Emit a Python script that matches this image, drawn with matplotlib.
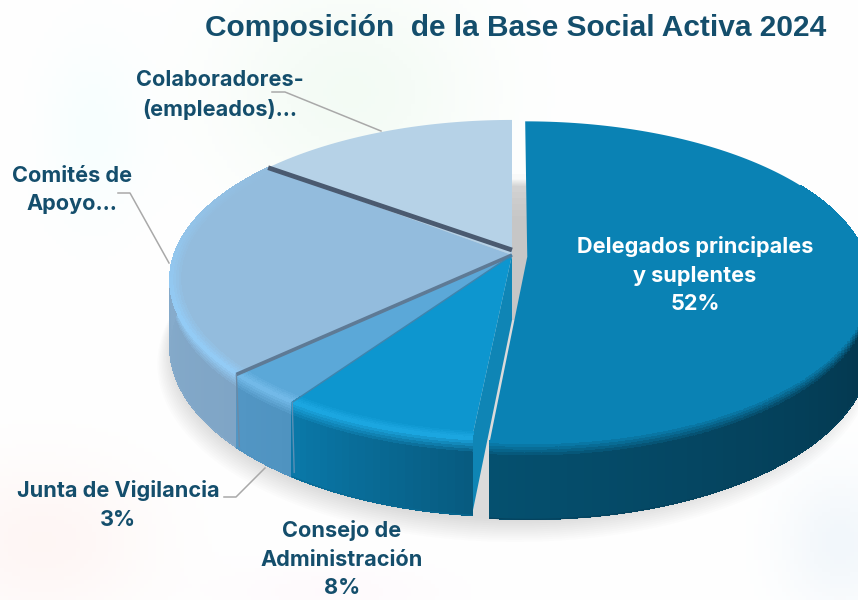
import matplotlib
matplotlib.use('Agg')
import matplotlib.pyplot as plt
import numpy as np
from matplotlib.collections import PolyCollection
from matplotlib.colors import to_rgb

plt.rcParams['font.family'] = ['Inter', 'DejaVu Sans']

categorias = ['Delegados', 'Consejo', 'Junta', 'Comites', 'Colaboradores']
valores = [51.6, 8.0, 3.4, 22.5, 14.5]
color_cara = ['#0a82b4', '#0d96cf', '#5ba8d8', '#93bcdd', '#b6d2e7']
color_brillo = ['#0a82b4', '#1ba6e0', '#72b9e8', '#93cbf5', '#b6d2e7']
lado_ini = ['#05506f', '#075b80', '#4f93c0', '#7fa5c6', '#9fc0d8']
lado_fin = ['#04344a', '#0a78a8', '#5296c4', '#8cb0cf', '#9fc0d8']
desplaza = [(0.045, -0.012), (0, 0), (0, 0), (0, 0), (0, 0)]
texto_color = '#144e6c'

cx, cy = 512, 255
rx, ry = 338, 156
k = 0.155
alto = 65


def proy(u, v, z=0.0):
    w = 1 + k * v
    return cx + rx * u / w, cy - ry * v / w + alto * z / w


def mezcla(a, b, t):
    a, b = np.array(to_rgb(a)), np.array(to_rgb(b))
    return tuple(a + (b - a) * t)


fig = plt.figure(figsize=(8.58, 6), dpi=100)
ax = fig.add_axes([0, 0, 1, 1])
ax.set_xlim(0, 858)
ax.set_ylim(600, 0)
ax.axis('off')

# fondo con manchas muy suaves
yy, xx = np.mgrid[0:600:4, 0:858:4]
fondo = np.ones(xx.shape + (3,))
manchas = [(90, 130, 50, 90, (0.03, 0.0, 0.0)), (40, 540, 110, 80, (0.0, 0.035, 0.04)),
           (350, 90, 130, 110, (0.045, 0.015, 0.04)), (840, 540, 60, 70, (0.05, 0.03, 0.015)),
           (330, 590, 110, 30, (0.0, 0.02, 0.01))]
for mx, my, sx, sy, tinte in manchas:
    g = np.exp(-((xx - mx) / sx) ** 2 - ((yy - my) / sy) ** 2)
    for c in range(3):
        fondo[..., c] -= g * tinte[c]
ax.imshow(np.clip(fondo, 0, 1), extent=(0, 858, 600, 0), aspect='auto', zorder=0)

# sombra bajo la tarta
t_all = np.linspace(0, 2 * np.pi, 200)
for i in range(12):
    e = 1 + i * 0.004
    px, py = proy(np.sin(t_all) * e, np.cos(t_all) * e, 1.0)
    ax.fill(px + 3, py + 3 + i * 1.1, color='#606060', alpha=0.014, lw=0, zorder=1)

fracs = np.cumsum([0] + valores) / np.sum(valores) * 2 * np.pi
# sombra en el hueco
for i in range(8):
    ax.fill([512, 527, 527, 512], [174 + i * 6, 174 + i * 6, 320, 320], color='#777777', alpha=0.022, lw=0, zorder=1)

# paredes y caras, de atras hacia delante
orden = [4, 3, 0, 2, 1]
for i in orden:
    t0, t1 = fracs[i], fracs[i + 1]
    du, dv = desplaza[i]
    th = np.linspace(t0, t1, max(int(valores[i] * 3), 12))
    z_base = 10 + orden.index(i) * 2

    # pared radial del consejo (la que se ve en el hueco)
    if i == 1:
        x0, y0 = proy(0, 0, 0)
        x1, y1 = proy(np.sin(t0), np.cos(t0), 0)
        x2, y2 = proy(np.sin(t0), np.cos(t0), 1)
        x3, y3 = proy(0, 0, 1)
        ax.fill([x0, x1, x2, x3], [y0, y1, y2, y3], color='#0f85b5', lw=0, zorder=z_base)

    # lado curvo (la parte de atras no se ve)
    if i != 4:
        polys, cols = [], []
        zs = np.concatenate([np.linspace(0, 0.18, 6), np.linspace(0.18, 1, 3)[1:]])
        for a in range(len(th) - 1):
            if i == 0 and np.cos(th[a]) > 0.5:
                continue
            tm = a / (len(th) - 2) if len(th) > 2 else 0
            if i == 0:
                tm = min(1, (1 - tm) * 2.2)
            base = mezcla(lado_ini[i], lado_fin[i], tm)
            for b in range(len(zs) - 1):
                f = min(1, zs[b] / 0.18)
                col = mezcla(color_brillo[i], base, f)
                pts = []
                for tt, zz in [(th[a], zs[b]), (th[a + 1], zs[b]), (th[a + 1], zs[b + 1]), (th[a], zs[b + 1])]:
                    pts.append(proy(np.sin(tt) + du, np.cos(tt) + dv, zz))
                polys.append(pts)
                cols.append(col)
        ax.add_collection(PolyCollection(polys, facecolors=cols, edgecolors=cols, linewidths=0.5,
                                         antialiaseds=False, zorder=z_base + 0.2))
        vis = np.cos(th) <= 0.5 if i == 0 else np.ones(len(th), dtype=bool)
        px, py = proy(np.sin(th[vis]) + du, np.cos(th[vis]) + dv, 1.0)
        ax.plot(px, py, color=mezcla(lado_ini[i], lado_fin[i], 0.5), lw=0.8, zorder=z_base + 0.3)

    # cara superior
    px, py = proy(np.sin(th) + du, np.cos(th) + dv)
    x0, y0 = proy(du, dv)
    ax.fill(np.r_[x0, px], np.r_[y0, py], color=color_cara[i], lw=0, zorder=z_base + 0.5)

    # bisel del borde
    if i in (1, 2, 3):
        polys, cols = [], []
        rs = np.linspace(0.97, 1.0, 5)
        for a in range(len(th) - 1):
            resta = 1.0
            if i == 3:
                resta = np.clip((len(th) - a) / (len(th) * 0.75), 0, 1)
            for b in range(len(rs) - 1):
                col = mezcla(color_cara[i], color_brillo[i], resta * (b + 1) / 4)
                pts = []
                for tt, rr in [(th[a], rs[b]), (th[a + 1], rs[b]), (th[a + 1], rs[b + 1]), (th[a], rs[b + 1])]:
                    pts.append(proy(np.sin(tt) * rr, np.cos(tt) * rr))
                polys.append(pts)
                cols.append(col)
        ax.add_collection(PolyCollection(polys, facecolors=cols, edgecolors=cols, linewidths=0.4,
                                         antialiaseds=False, zorder=z_base + 0.6))

# separadores oscuros
xc, yc = proy(0, 0)
x_a, y_a = proy(np.sin(fracs[4]), np.cos(fracs[4]))
ax.plot([x_a, xc], [y_a, yc - 5], color='#4a5a70', lw=3.4, solid_capstyle='butt', zorder=30)
x_b, y_b = proy(np.sin(fracs[3]), np.cos(fracs[3]))
ax.plot([x_b, xc], [y_b, yc], color='#5e7a95', lw=2.6, solid_capstyle='butt', zorder=30)
x_c, y_c = proy(np.sin(fracs[2]), np.cos(fracs[2]))
ax.plot([x_c, xc], [y_c, yc], color='#3f84ad', lw=1.0, solid_capstyle='butt', zorder=30)
ax.plot([x_b, x_b + 3], [y_b, y_b + 72], color='#6c8aa5', lw=1.0, zorder=30)
ax.plot([x_c, x_c + 2], [y_c, y_c + 70], color='#5a8fb5', lw=1.0, zorder=30)

# guias de las etiquetas
gris = '#a9a9a9'
ax.plot([272, 285, 381], [92, 92, 131], color=gris, lw=1.1, zorder=32)
ax.plot([118, 130, 169], [193, 193, 263], color=gris, lw=1.1, zorder=32)
ax.plot([224, 236, 265], [497, 497, 468], color=gris, lw=1.1, zorder=32)

# textos
ax.text(205, 28, 'Composición  de la Base Social Activa 2024', fontsize=21.5, fontweight='bold',
        family=['Liberation Sans', 'DejaVu Sans'], color=texto_color, va='center', ha='left', zorder=40)
etiquetas = [
    (220, 95, 'Colaboradores-\n(empleados)...', texto_color),
    (72, 190, 'Comités de\nApoyo...', texto_color),
    (118, 505, 'Junta de Vigilancia\n3%', texto_color),
    (342, 559, 'Consejo de\nAdministración\n8%', texto_color),
    (695, 275, 'Delegados principales\ny suplentes\n52%', 'white'),
]
for x, y, s, c in etiquetas:
    ax.text(x, y, s, fontsize=15.6, fontweight='bold', color=c, ha='center', va='center',
            linespacing=1.55, zorder=40)

fig.savefig('out.png', dpi=100)
